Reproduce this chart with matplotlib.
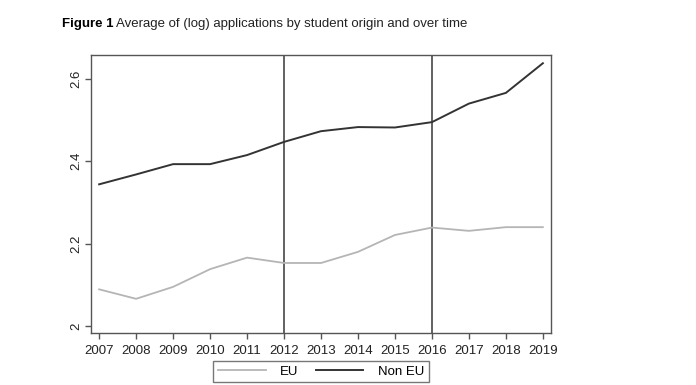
import matplotlib.pyplot as plt
from matplotlib.ticker import FixedLocator

plt.rcParams['font.family'] = ['Liberation Sans', 'DejaVu Sans']

years = [2007, 2008, 2009, 2010, 2011, 2012, 2013, 2014, 2015, 2016, 2017, 2018, 2019]
eu = [2.089, 2.066, 2.095, 2.138, 2.166, 2.153, 2.153, 2.180, 2.221, 2.239, 2.231, 2.240, 2.240]
non_eu = [2.344, 2.368, 2.393, 2.393, 2.415, 2.447, 2.473, 2.483, 2.482, 2.495, 2.540, 2.566, 2.638]
yticks = [2.0, 2.2, 2.4, 2.6]
ytick_labels = ["2", "2.2", "2.4", "2.6"]
policy_years = [2012, 2016]


def main():
    fig = plt.figure(figsize=(6.96, 3.85), dpi=100)
    ax = fig.add_axes([91 / 696, 1 - 333 / 385, 460 / 696, 278 / 385])

    for yr in policy_years:
        ax.axvline(yr, color="#555555", lw=1.3, zorder=1)

    ax.plot(years, eu, color="#b5b5b5", lw=1.3, label="EU", zorder=2)
    ax.plot(years, non_eu, color="#333333", lw=1.4, label="Non EU", zorder=2)

    ax.set_xlim(2006.78, 2019.22)
    ax.set_ylim(1.983, 2.658)
    ax.set_xticks(years)
    ax.set_xticklabels([str(y) for y in years], fontsize=9.5)
    ax.yaxis.set_major_locator(FixedLocator(yticks))
    ax.set_yticklabels(ytick_labels, fontsize=9.5, rotation=90, va="center")

    for side in ["left", "bottom", "top", "right"]:
        ax.spines[side].set_color("#555555")
        ax.spines[side].set_linewidth(1.0)
    ax.tick_params(axis="both", color="#555555", length=4, width=1.0, labelcolor="#222222")
    ax.tick_params(axis="y", pad=2)
    ax.tick_params(axis="x", pad=4.5)

    ax.legend(loc="upper center", bbox_to_anchor=(0.5, -0.1), borderaxespad=0, ncol=2,
              frameon=True, fancybox=False, edgecolor="#555555", fontsize=9.5,
              handlelength=3.6, columnspacing=1.3, borderpad=0.35, handletextpad=1.1)

    t1 = fig.text(62 / 696, 1 - 24 / 385, "Figure 1", fontsize=9.5, fontweight="bold",
                  va="center")
    fig.canvas.draw()
    bb = t1.get_window_extent()
    fig.text((bb.x1 + 3) / 696, 1 - 24 / 385,
             "Average of (log) applications by student origin and over time",
             fontsize=9.5, va="center", color="#222222")

    fig.savefig("out.png", dpi=100)
    plt.close(fig)


if __name__ == '__main__':
    main()
